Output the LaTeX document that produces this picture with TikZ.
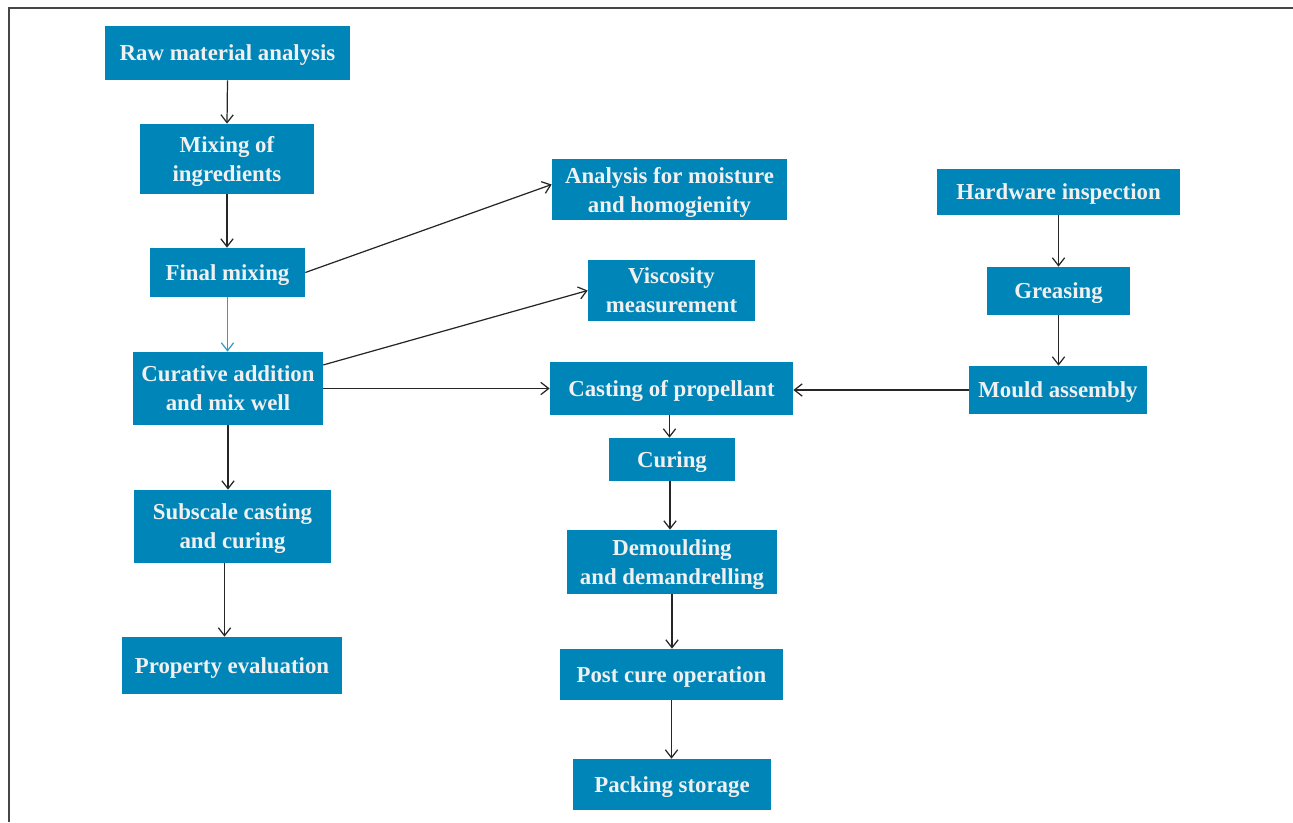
\documentclass[tikz,border=0pt]{standalone}
\usepackage{fontspec}
\setmainfont{Liberation Serif}
\usepackage{tikz}
\usetikzlibrary{arrows.meta, positioning, calc}
\definecolor{flowblue}{RGB}{0,133,184}
\definecolor{framegray}{RGB}{70,70,70}

\tikzset{
  procbox/.style={fill=flowblue, text=white!94!black, font=\fontsize{13}{16.5}\selectfont\bfseries, align=center, inner sep=0pt, text depth=0pt},
  flow/.style={draw=black!85, line width=0.7pt, -{Straight Barb[length=4.5pt,width=7pt]}},
}

\begin{document}
\begin{tikzpicture}[x=0.02cm, y=-0.02cm]
  \useasboundingbox (0,0) rectangle (1293,822);
  \draw[framegray, line width=0.8pt] (9,822) -- (9,8) -- (1293,8);

  % left column
  \node[procbox, minimum width=4.9cm, minimum height=1.08cm] (raw) at (227.5,53) {Raw material analysis};
  \node[procbox, minimum width=3.48cm, minimum height=1.4cm] (mixing) at (227,159) {Mixing of\\ingredients};
  \node[procbox, minimum width=3.1cm, minimum height=0.98cm] (final) at (227.5,272.5) {Final mixing};
  \node[procbox, minimum width=3.8cm, minimum height=1.46cm] (curative) at (228,388.5) {Curative addition\\and mix well};
  \node[procbox, minimum width=3.94cm, minimum height=1.46cm] (subscale) at (232.5,526.5) {Subscale casting\\and curing};
  \node[procbox, minimum width=4.4cm, minimum height=1.14cm] (property) at (232,665.5) {Property evaluation};

  % middle column
  \node[procbox, minimum width=4.7cm, minimum height=1.22cm] (moisture) at (669.5,189.5) {Analysis for moisture\\and homogienity};
  \node[procbox, minimum width=3.34cm, minimum height=1.22cm] (viscosity) at (671.5,290.5) {Viscosity\\measurement};
  \node[procbox, minimum width=4.86cm, minimum height=1.06cm] (casting) at (671.5,388.5) {Casting of propellant};
  \node[procbox, minimum width=2.52cm, minimum height=0.86cm] (curing) at (672,459.5) {Curing};
  \node[procbox, minimum width=4.2cm, minimum height=1.28cm] (demould) at (672,562) {Demoulding\\and demandrelling};
  \node[procbox, minimum width=4.46cm, minimum height=1.02cm] (postcure) at (671.5,674.5) {Post cure operation};
  \node[procbox, minimum width=3.96cm, minimum height=1.02cm] (packing) at (672,784.5) {Packing storage};

  % right column
  \node[procbox, minimum width=4.86cm, minimum height=0.92cm] (hardware) at (1058.5,192) {Hardware inspection};
  \node[procbox, minimum width=2.86cm, minimum height=0.96cm] (greasing) at (1058.5,291) {Greasing};
  \node[procbox, minimum width=3.56cm, minimum height=0.96cm] (mould) at (1058,390) {Mould assembly};

  \draw[flow] (raw.south) -- (mixing.north);
  \draw[flow] (mixing.south) -- (mixing.south |- final.north);
  \draw[flow, draw=flowblue!80] (final.south) -- (final.south |- curative.north);
  \draw[flow] (curative.south) -- (curative.south |- subscale.north);
  \draw[flow] ($(subscale.south)+(-8,0)$) -- ($(subscale.south |- property.north)+(-8,0)$);

  \draw[flow] (final.east) -- ($(moisture.west)+(0,-5)$);
  \draw[flow] ($(curative.north east)!0.18!(curative.south east)$) -- (viscosity.west);
  \draw[flow] (curative.east) -- (casting.west);
  \draw[flow] (mould.west) -- (mould.west -| casting.east);

  \draw[flow] ($(casting.south)+(-2,0)$) -- ($(casting.south |- curing.north)+(-2,0)$);
  \draw[flow] ($(curing.south)+(-2,0)$) -- ($(curing.south |- demould.north)+(-2,0)$);
  \draw[flow] (demould.south) -- (demould.south |- postcure.north);
  \draw[flow] (postcure.south) -- (postcure.south |- packing.north);

  \draw[flow] (hardware.south) -- (greasing.north);
  \draw[flow] (greasing.south) -- (greasing.south |- mould.north);
\end{tikzpicture}
\end{document}
